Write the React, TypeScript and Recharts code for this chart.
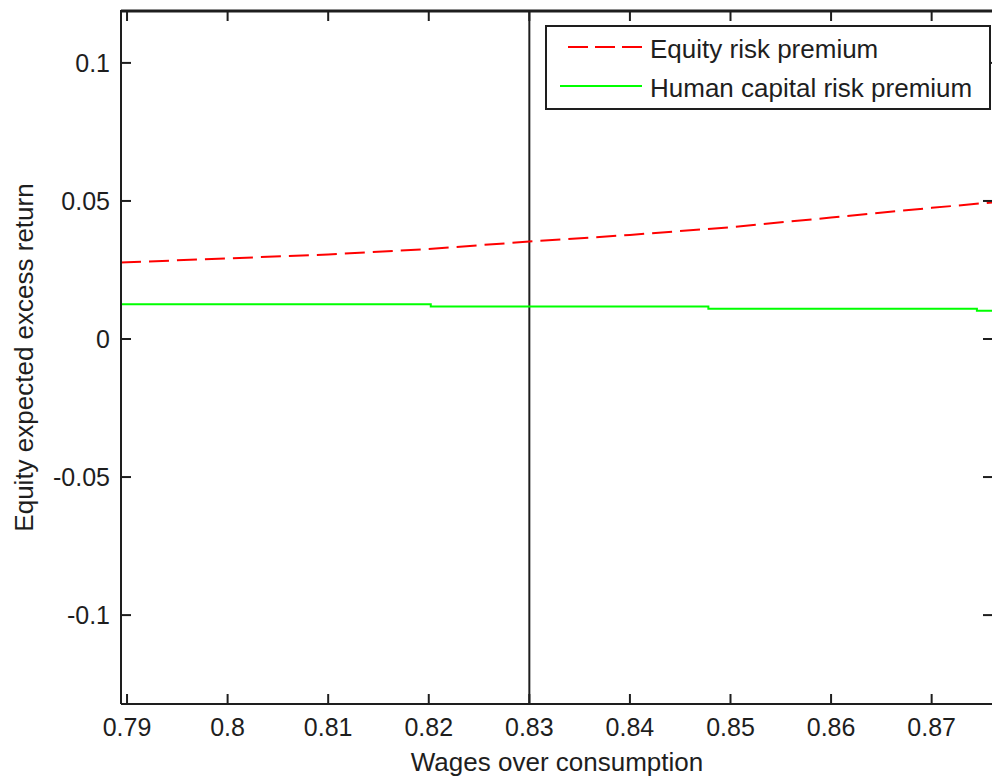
import { Line, LineChart, ReferenceLine, XAxis, YAxis } from "recharts";

// wages over consumption (x) and the two premia
const wageRatio = [0.7894, 0.79, 0.8, 0.81, 0.82, 0.83, 0.84, 0.85, 0.86, 0.87, 0.8761];
const equityPremium = [0.0277, 0.0278, 0.0292, 0.0306, 0.0326, 0.0353, 0.0377, 0.0405, 0.044, 0.0475, 0.0495];

const humanBreaks = [0.7894, 0.8202, 0.8478, 0.8745, 0.8761];
const humanPremium = [0.0126, 0.0118, 0.011, 0.0102, 0.0102];

const xTicks = [0.79, 0.8, 0.81, 0.82, 0.83, 0.84, 0.85, 0.86, 0.87];
const yTicks = [-0.1, -0.05, 0, 0.05, 0.1];
const xDomain = [0.7894, 0.8761];
const yDomain = [-0.1322, 0.1188];
const markerX = 0.83;

const equityData = wageRatio.map((x, i) => ({ x, y: equityPremium[i] }));
const humanData = humanBreaks.map((x, i) => ({ x, y: humanPremium[i] }));

const INK = "#1e1e1e";
const FONT = "'Liberation Sans', Arial, sans-serif";

// plot box (matlab style: box on, ticks pointing inward on all four sides)
const CHART_W = 1010;
const CHART_H = 778;
const M_TOP = 11;
const M_RIGHT = 17;
const Y_AXIS_W = 121;
const X_AXIS_H = 74;
const PLOT_W = CHART_W - M_RIGHT - Y_AXIS_W;
const PLOT_H = CHART_H - M_TOP - X_AXIS_H;
const TICK = 10;

const BottomTick = (props: any) => {
	const { x, y, payload } = props;
	return (
		<g>
			<line x1={x} x2={x} y1={y} y2={y - TICK} stroke={INK} strokeWidth={2} />
			<rect x={x - 1} y={y - PLOT_H} width={2} height={TICK} fill={INK} />
			<text x={x} y={y + 32} textAnchor="middle" fontSize={25} fontFamily={FONT} fill={INK}>
				{payload.value}
			</text>
		</g>
	);
};

const LeftTick = (props: any) => {
	const { x, y, payload } = props;
	return (
		<g>
			<line x1={x} x2={x + TICK} y1={y} y2={y} stroke={INK} strokeWidth={2} />
			<line x1={x + PLOT_W} x2={x + PLOT_W - TICK} y1={y} y2={y} stroke={INK} strokeWidth={2} />
			<text x={x - 11} y={y + 9} textAnchor="end" fontSize={25} fontFamily={FONT} fill={INK}>
				{payload.value}
			</text>
		</g>
	);
};

function ChartLegend() {
	return (
		<div
			style={{
				position: "absolute",
				left: 545,
				top: 25,
				width: 446,
				height: 85,
				boxSizing: "border-box",
				border: `2px solid ${INK}`,
				background: "#fff",
			}}
		>
			<svg width={442} height={81} style={{ display: "block" }}>
				<line x1={21} x2={95} y1={20} y2={20} stroke="#ff0000" strokeWidth={2} strokeDasharray="20 7" />
				<text x={103} y={31} fontSize={26} fontFamily={FONT} fill={INK}>
					Equity risk premium
				</text>
				<line x1={13} x2={95} y1={59} y2={59} stroke="#00ff00" strokeWidth={2} />
				<text x={103} y={70} fontSize={26} fontFamily={FONT} fill={INK}>
					Human capital risk premium
				</text>
			</svg>
		</div>
	);
}

export default function App() {
	return (
		<div
			style={{
				position: "fixed",
				left: 0,
				top: 0,
				width: 992,
				height: 778,
				overflow: "hidden",
				background: "#fff",
			}}
		>
			<LineChart width={CHART_W} height={CHART_H} margin={{ top: M_TOP, right: M_RIGHT, left: 0, bottom: 0 }}>
				<XAxis
					dataKey="x"
					type="number"
					domain={xDomain}
					ticks={xTicks}
					interval={0}
					allowDataOverflow
					height={X_AXIS_H}
					tickSize={0}
					tickMargin={0}
					axisLine={{ stroke: INK, strokeWidth: 2 }}
					tick={<BottomTick />}
					label={(p: any) => {
						const vb = p.viewBox;
						return (
							<text x={vb.x + vb.width / 2} y={vb.y + 67} textAnchor="middle" fontSize={26} fontFamily={FONT} fill={INK}>
								Wages over consumption
							</text>
						);
					}}
				/>
				<YAxis
					type="number"
					domain={yDomain}
					ticks={yTicks}
					interval={0}
					allowDataOverflow
					width={Y_AXIS_W}
					tickSize={0}
					tickMargin={0}
					axisLine={{ stroke: INK, strokeWidth: 2 }}
					tick={<LeftTick />}
					label={(p: any) => {
						const vb = p.viewBox;
						const cy = vb.y + vb.height / 2;
						return (
							<text
								x={33}
								y={cy}
								transform={`rotate(-90 33 ${cy})`}
								textAnchor="middle"
								fontSize={26}
								fontFamily={FONT}
								fill={INK}
							>
								Equity expected excess return
							</text>
						);
					}}
				/>
				<ReferenceLine y={yDomain[1]} ifOverflow="visible" stroke={INK} strokeWidth={3} />
				<ReferenceLine x={markerX} stroke={INK} strokeWidth={2} />
				<Line
					data={equityData}
					dataKey="y"
					type="linear"
					stroke="#ff0000"
					strokeWidth={2}
					strokeDasharray="20 8"
					dot={false}
					activeDot={false}
					isAnimationActive={false}
				/>
				<Line
					data={humanData}
					dataKey="y"
					type="stepAfter"
					stroke="#00ff00"
					strokeWidth={2}
					dot={false}
					activeDot={false}
					isAnimationActive={false}
				/>
			</LineChart>
			<ChartLegend />
			{/* plot frame top edge, drawn above the svg */}
			<div
				style={{
					position: "absolute",
					left: Y_AXIS_W - 1,
					top: M_TOP - 1,
					width: PLOT_W + 2,
					height: 2,
					background: INK,
				}}
			/>
		</div>
	);
}
